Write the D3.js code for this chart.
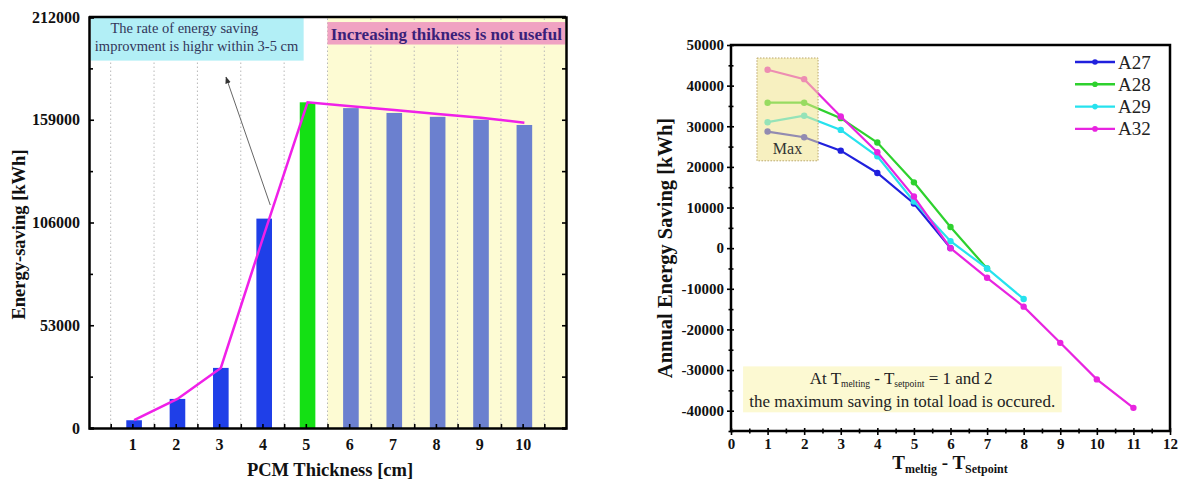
<!DOCTYPE html>
<html><head><meta charset="utf-8">
<script src="https://cdn.jsdelivr.net/npm/d3@7"></script>
<style>
body{margin:0;background:#fff}
svg{display:block}
text{font-family:"Liberation Serif","Times New Roman",serif}
</style>
</head><body>
<svg width="1182" height="484"></svg>
<script>
// ---------- Left chart data ----------
const thickness = [1, 2, 3, 4, 5, 6, 7, 8, 9, 10];
const savingBars = [4000, 15000, 31000, 108000, 168000, 165000, 162500, 160500, 159000, 156300];
const trendLine = [4000, 15000, 31000, 100000, 168000, 166000, 164000, 162000, 160000, 157500];
const barGroup = ["rise", "rise", "rise", "rise", "peak", "flat", "flat", "flat", "flat", "flat"];
const leftYTicks = [0, 53000, 106000, 159000, 212000];
const leftYMinor = [26500, 79500, 132500, 185500];
const leftXMinor = [0.5, 1.5, 2.5, 3.5, 4.5, 5.5, 6.5, 7.5, 8.5, 9.5, 10.5];

// ---------- Right chart data ----------
const tDiff = [1, 2, 3, 4, 5, 6, 7, 8, 9, 10, 11];
const A27 = [28700, 27300, 24000, 18500, 11000, 0];
const A28 = [35800, 35800, 32000, 26000, 16200, 5200, -5000];
const A29 = [31000, 32600, 29100, 22600, 11500, 1700, -5000, -12500];
const A32 = [43900, 41600, 32400, 23600, 12700, 0, -7300, -14400, -23300, -32300, -39300];
const seriesNames = ["A27", "A28", "A29", "A32"];
const rightYTicks = [-40000, -30000, -20000, -10000, 0, 10000, 20000, 30000, 40000, 50000];
const rightYMinor = [-45000, -35000, -25000, -15000, -5000, 5000, 15000, 25000, 35000, 45000];
const rightXTicks = [0, 1, 2, 3, 4, 5, 6, 7, 8, 9, 10, 11, 12];
const rightXMinor = [0.5, 1.5, 2.5, 3.5, 4.5, 5.5, 6.5, 7.5, 8.5, 9.5, 10.5, 11.5];

const svg = d3.select("svg");

// ================= LEFT CHART =================
const xL = d3.scaleLinear().domain([0, 11]).range([89, 566]);
const yL = d3.scaleLinear().domain([0, 212000]).range([428, 17]);
const gL = svg.append("g");

// yellow region
gL.append("rect")
  .attr("x", xL(5.5)).attr("y", yL(212000))
  .attr("width", xL(11) - xL(5.5)).attr("height", yL(0) - yL(212000))
  .attr("fill", "#fdfbd3");

// dotted vertical grid
gL.selectAll("line.grid").data(leftXMinor).join("line")
  .attr("class", "grid")
  .attr("x1", d => xL(d)).attr("x2", d => xL(d))
  .attr("y1", yL(0)).attr("y2", yL(212000))
  .attr("stroke", "#b8b8b8").attr("stroke-width", 1)
  .attr("stroke-dasharray", "1.5,2.5");

// bars
const barColor = {rise: "#1f3fe8", peak: "#14e014", flat: "#6b80cf"};
const bw = xL(0.36) - xL(0);
gL.selectAll("rect.bar").data(thickness).join("rect")
  .attr("class", "bar")
  .attr("x", (d) => xL(d + 0.04) - bw / 2)
  .attr("y", (d, i) => yL(savingBars[i]))
  .attr("width", bw)
  .attr("height", (d, i) => yL(0) - yL(savingBars[i]))
  .attr("fill", (d, i) => barColor[barGroup[i]]);

// trend line
gL.append("path")
  .datum(thickness.map((d, i) => [d + 0.04, trendLine[i]]))
  .attr("d", d3.line().x(d => xL(d[0])).y(d => yL(d[1])))
  .attr("fill", "none").attr("stroke", "#f020e8").attr("stroke-width", 2.5);

// cyan annotation box
gL.append("rect")
  .attr("x", xL(0.04)).attr("y", yL(211500))
  .attr("width", xL(4.95) - xL(0.04)).attr("height", yL(189500) - yL(211500))
  .attr("fill", "#b2eff6");
gL.append("text").attr("x", xL(2.2)).attr("y", yL(204000))
  .attr("text-anchor", "middle").attr("font-size", 14.5).attr("fill", "#33365a")
  .text("The rate of energy saving");
gL.append("text").attr("x", xL(2.48)).attr("y", yL(194500))
  .attr("text-anchor", "middle").attr("font-size", 14.5).attr("fill", "#33365a")
  .text("improvment is highr within 3-5 cm");

// pink annotation box
gL.append("rect")
  .attr("x", xL(5.5)).attr("y", yL(209400))
  .attr("width", xL(10.98) - xL(5.5)).attr("height", yL(197800) - yL(209400))
  .attr("fill", "#f0a2c2");
gL.append("text").attr("x", (xL(5.5) + xL(10.98)) / 2).attr("y", yL(200100))
  .attr("text-anchor", "middle").attr("font-size", 17).attr("font-weight", "bold")
  .attr("fill", "#3a1f7a")
  .text("Increasing thikness is not useful");

// arrow
const defs = svg.append("defs");
defs.append("marker").attr("id", "ah").attr("viewBox", "0 0 10 10")
  .attr("refX", 9).attr("refY", 5).attr("markerWidth", 7).attr("markerHeight", 7)
  .attr("orient", "auto")
  .append("path").attr("d", "M0,1 L10,5 L0,9 Z").attr("fill", "#333");
gL.append("line")
  .attr("x1", xL(4.18)).attr("y1", yL(115000))
  .attr("x2", xL(3.16)).attr("y2", yL(181000))
  .attr("stroke", "#666").attr("stroke-width", 1)
  .attr("marker-end", "url(#ah)");

// axes
const styleAxis = (g, fs) => {
  g.selectAll("text").attr("font-family", "Liberation Serif, serif")
    .attr("font-weight", "bold").attr("font-size", fs).attr("fill", "#111");
  g.selectAll(".tick line").attr("stroke", "#000").attr("stroke-width", 1.6);
};
const lb = gL.append("g").attr("transform", `translate(0,${yL(0)})`)
  .call(d3.axisBottom(xL).tickValues(thickness).tickSize(0).tickPadding(11).tickFormat(d => d));
lb.select(".domain").attr("stroke", "#000").attr("stroke-width", 2.5);
styleAxis(lb, 16);
const lbm = gL.append("g").attr("transform", `translate(0,${yL(0)})`)
  .call(d3.axisBottom(xL).tickValues(leftXMinor.concat(thickness)).tickSize(-4).tickFormat(""));
lbm.select(".domain").remove(); styleAxis(lbm, 12);

const ll = gL.append("g").attr("transform", `translate(${xL(0)},0)`)
  .call(d3.axisLeft(yL).tickValues(leftYTicks).tickSize(-5).tickPadding(9).tickFormat(d => d));
ll.select(".domain").attr("stroke", "#000").attr("stroke-width", 2.5);
styleAxis(ll, 16);
const llm = gL.append("g").attr("transform", `translate(${xL(0)},0)`)
  .call(d3.axisLeft(yL).tickValues(leftYMinor).tickSize(-4).tickFormat(""));
llm.select(".domain").remove(); styleAxis(llm, 12);

const lr = gL.append("g").attr("transform", `translate(${xL(11)},0)`)
  .call(d3.axisRight(yL).tickValues(leftYTicks.concat(leftYMinor)).tickSize(-4).tickFormat(""));
lr.select(".domain").attr("stroke", "#000").attr("stroke-width", 2.5);
styleAxis(lr, 12);
gL.append("line").attr("x1", xL(0)).attr("x2", xL(11)).attr("y1", yL(212000)).attr("y2", yL(212000))
  .attr("stroke", "#000").attr("stroke-width", 2.5);

gL.append("text").attr("transform", `translate(25,${(yL(0) + yL(212000)) / 2 + 12}) rotate(-90)`)
  .attr("text-anchor", "middle").attr("font-size", 18.5).attr("font-weight", "bold").attr("fill", "#111")
  .text("Energy-saving [kWh]");
gL.append("text").attr("x", 330).attr("y", 476)
  .attr("text-anchor", "middle").attr("font-size", 18.5).attr("font-weight", "bold").attr("fill", "#111")
  .text("PCM Thickness [cm]");

// ================= RIGHT CHART =================
const xR = d3.scaleLinear().domain([0, 12]).range([731, 1170]);
const yR = d3.scaleLinear().domain([-45000, 50000]).range([431, 45]);
const gR = svg.append("g");

// bottom annotation box
gR.append("rect")
  .attr("x", xR(0.33)).attr("y", yR(-29100))
  .attr("width", xR(9.04) - xR(0.33)).attr("height", yR(-40400) - yR(-29100))
  .attr("fill", "#fcf9d2");
const t1 = gR.append("text").attr("x", xR(4.65)).attr("y", yR(-33500))
  .attr("text-anchor", "middle").attr("font-size", 17).attr("fill", "#222");
t1.append("tspan").text("At T");
t1.append("tspan").attr("font-size", 9.5).attr("dy", 3).text("melting");
t1.append("tspan").attr("dy", -3).text(" - T");
t1.append("tspan").attr("font-size", 9.5).attr("dy", 3).text("setpoint");
t1.append("tspan").attr("dy", -3).text("  = 1 and 2");
gR.append("text").attr("x", xR(4.68)).attr("y", yR(-39000))
  .attr("text-anchor", "middle").attr("font-size", 17).attr("fill", "#222")
  .text("the maximum saving in total load is occured.");

// series
const seriesData = [A27, A28, A29, A32];
const seriesColor = ["#2020dd", "#2ed12e", "#26e2ee", "#e824e0"];
const lineR = d3.line().x(d => xR(d[0])).y(d => yR(d[1]));
seriesData.forEach((vals, si) => {
  const pts = vals.map((v, i) => [tDiff[i], v]);
  gR.append("path").datum(pts).attr("d", lineR)
    .attr("fill", "none").attr("stroke", seriesColor[si]).attr("stroke-width", 2.2);
  gR.selectAll(null).data(pts).join("circle")
    .attr("cx", d => xR(d[0])).attr("cy", d => yR(d[1])).attr("r", 3.2)
    .attr("fill", seriesColor[si]);
});

// Max box overlay
gR.append("rect")
  .attr("x", xR(0.71)).attr("y", yR(46800))
  .attr("width", xR(2.38) - xR(0.71)).attr("height", yR(21500) - yR(46800))
  .attr("fill", "rgba(240,228,140,0.55)").attr("stroke", "#b9a56a")
  .attr("stroke-width", 1).attr("stroke-dasharray", "1.5,1.5");
gR.append("text").attr("x", (xR(0.71) + xR(2.38)) / 2).attr("y", yR(23200))
  .attr("text-anchor", "middle").attr("font-size", 16).attr("fill", "#333").text("Max");

// legend
const lg = gR.append("g");
seriesNames.forEach((n, i) => {
  const y = 62 + i * 22.3;
  lg.append("line").attr("x1", 1075).attr("x2", 1115).attr("y1", y).attr("y2", y)
    .attr("stroke", seriesColor[i]).attr("stroke-width", 2.4);
  lg.append("circle").attr("cx", 1095).attr("cy", y).attr("r", 2.8).attr("fill", seriesColor[i]);
  lg.append("text").attr("x", 1118).attr("y", y + 6.5).attr("font-size", 19).attr("fill", "#222").text(n);
});

// axes
const ry = gR.append("g").attr("transform", `translate(${xR(0)},0)`)
  .call(d3.axisLeft(yR).tickValues(rightYTicks).tickSize(4).tickPadding(3).tickFormat(d => String(d)));
ry.select(".domain").remove();
styleAxis(ry, 15);
const ryi = gR.append("g").attr("transform", `translate(${xR(0)},0)`)
  .call(d3.axisRight(yR).tickValues(rightYTicks).tickSize(3).tickFormat(""));
ryi.select(".domain").remove(); styleAxis(ryi, 12);
const rym = gR.append("g").attr("transform", `translate(${xR(0) + 2.5},0)`)
  .call(d3.axisLeft(yR).tickValues(rightYMinor).tickSize(5).tickFormat(""));
rym.select(".domain").remove(); styleAxis(rym, 12);

const rx = gR.append("g").attr("transform", `translate(0,${yR(-45000)})`)
  .call(d3.axisBottom(xR).tickValues(rightXTicks).tickSize(4).tickPadding(3).tickFormat(d => d));
rx.select(".domain").remove();
styleAxis(rx, 15);
const rxi = gR.append("g").attr("transform", `translate(0,${yR(-45000)})`)
  .call(d3.axisTop(xR).tickValues(rightXTicks).tickSize(3).tickFormat(""));
rxi.select(".domain").remove(); styleAxis(rxi, 12);
const rxm = gR.append("g").attr("transform", `translate(0,${yR(-45000) - 2.5})`)
  .call(d3.axisBottom(xR).tickValues(rightXMinor).tickSize(5).tickFormat(""));
rxm.select(".domain").remove(); styleAxis(rxm, 12);

// frame
gR.append("rect").attr("x", xR(0)).attr("y", yR(50000))
  .attr("width", xR(12) - xR(0)).attr("height", yR(-45000) - yR(50000))
  .attr("fill", "none").attr("stroke", "#000").attr("stroke-width", 2.5);

// titles
gR.append("text").attr("transform", `translate(672,${(yR(50000) + yR(-45000)) / 2 + 10}) rotate(-90)`)
  .attr("text-anchor", "middle").attr("font-size", 20.5).attr("font-weight", "bold").attr("fill", "#111")
  .text("Annual Energy Saving [kWh]");
const xt = gR.append("text").attr("x", 950).attr("y", 469)
  .attr("text-anchor", "middle").attr("font-size", 19).attr("font-weight", "bold").attr("fill", "#111");
xt.append("tspan").text("T");
xt.append("tspan").attr("font-size", 12).attr("dy", 4).text("meltig");
xt.append("tspan").attr("dy", -4).text(" - T");
xt.append("tspan").attr("font-size", 12).attr("dy", 4).text("Setpoint");
</script>
</body></html>
